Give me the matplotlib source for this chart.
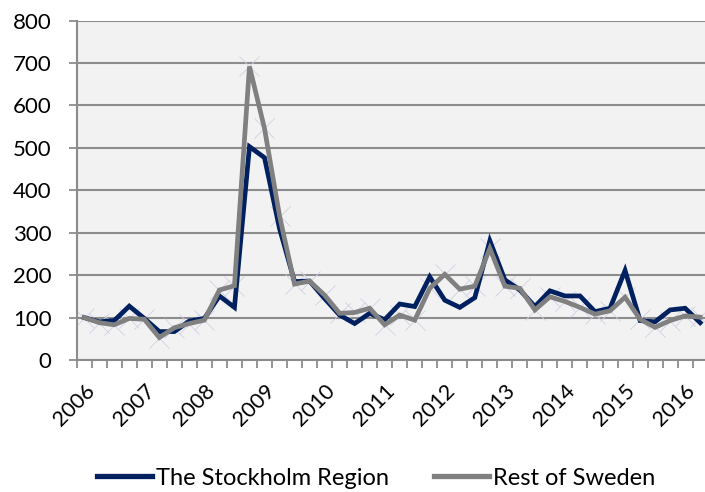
import matplotlib
matplotlib.use("Agg")
import matplotlib.pyplot as plt
import numpy as np
from matplotlib.lines import Line2D

# Quarterly index, 2006 Q1 .. 2016 Q2 (2006 Q1 = 100)
years = [str(y) for y in range(2006, 2017)]
stockholm = [100, 90, 93, 127, 98, 67, 67, 92, 98, 151, 124, 503, 477, 310,
             185, 186, 145, 106, 86, 110, 95, 132, 126, 196, 141, 124, 147,
             281, 189, 165, 126, 163, 151, 151, 114, 122, 211, 93, 90, 118,
             122, 88]
rest_of_sweden = [100, 88, 83, 98, 96, 53, 76, 86, 94, 165, 175, 692, 546,
                  340, 179, 186, 153, 110, 112, 122, 83, 106, 94, 169, 202,
                  167, 174, 263, 174, 169, 118, 149, 138, 124, 108, 116, 148,
                  96, 77, 93, 104, 101]

NAVY = "#002060"
GRAY = "#808080"
GRID = "#8c8c8c"

plt.rcParams["font.family"] = ["Lato", "DejaVu Sans"]

fig = plt.figure(figsize=(7.05, 4.92), dpi=100)
ax = fig.add_axes([0.1088, 0.2683, 0.895, 0.6897])
ax.set_facecolor("#f2f2f2")

n = len(stockholm)
x = np.arange(n) + 0.5

# faint cross markers on the "rest of Sweden" series
ax.plot(x, rest_of_sweden, linestyle="none", marker="x", markersize=15,
        markeredgewidth=0.6, color="#d0d0e6", zorder=2)
ax.plot(x, stockholm, color=NAVY, lw=3.4, zorder=3, solid_joinstyle="miter")
ax.plot(x, rest_of_sweden, color=GRAY, lw=3.4, zorder=4, solid_joinstyle="miter")

ax.set_xlim(0, n)
ax.set_ylim(0, 800)
ax.set_yticks(range(0, 801, 100))
ax.yaxis.grid(True, color=GRID, lw=1.5)
ax.set_axisbelow(True)

# category boundaries as tick marks, year labels every 4 quarters
ax.set_xticks(np.arange(0, n + 1), minor=True)
ax.set_xticks(x[::4])
ax.set_xticklabels(years, rotation=45, ha="right", va="top",
                   rotation_mode="anchor", fontsize=15.5)
ax.tick_params(axis="x", which="major", length=0, pad=15)
ax.tick_params(axis="x", which="minor", length=6, width=1.3, color=GRID,
               direction="out")
ax.tick_params(axis="y", length=6, width=1.3, color=GRID, labelsize=16, pad=12)

for side in ("top", "right"):
    ax.spines[side].set_visible(False)
for side in ("left", "bottom"):
    ax.spines[side].set_color(GRID)
    ax.spines[side].set_linewidth(1.5)

handles = [Line2D([], [], color=NAVY, lw=3.8),
           Line2D([], [], color=GRAY, lw=3.8)]
fig.legend(handles, ["The Stockholm Region", "Rest of Sweden"],
           loc="center", bbox_to_anchor=(0.534, 0.028), ncol=2, frameon=False,
           fontsize=17, handlelength=2.3, handletextpad=0.2, columnspacing=1.9)

fig.savefig("out.png", dpi=100)
